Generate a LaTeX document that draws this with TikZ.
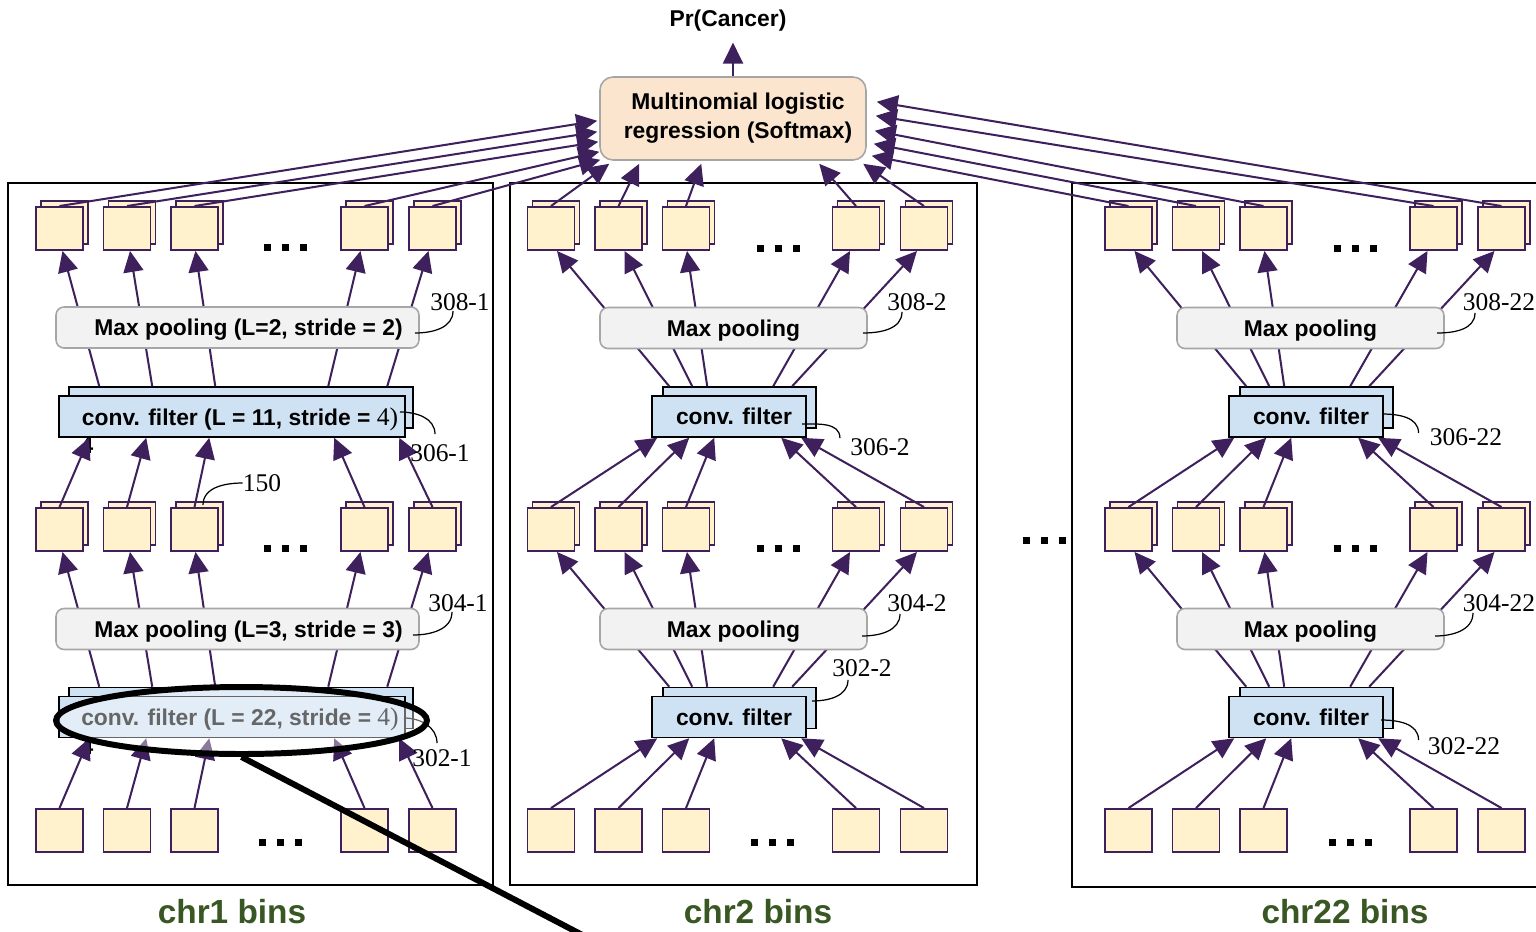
\documentclass[tikz,border=0pt]{standalone}
\usepackage{fontspec}
\setmainfont{Liberation Sans}
\newfontfamily\refnum{Liberation Serif}
\usetikzlibrary{shapes.geometric, arrows.meta, positioning, calc}
\definecolor{arrowpurple}{RGB}{62,32,92}
\definecolor{binyellow}{RGB}{255,242,204}
\definecolor{convblue}{RGB}{207,226,243}
\definecolor{poolgray}{RGB}{242,242,242}
\definecolor{poolline}{RGB}{166,166,166}
\definecolor{softpeach}{RGB}{251,229,207}
\definecolor{chrgreen}{RGB}{56,87,35}

\newcommand{\bindots}[2]{%
  \foreach \k in {-1,0,1} {\fill (#1+18*\k-3.5,#2-3.5) rectangle (#1+18*\k+3.5,#2+3.5);}}

\begin{document}
\begin{tikzpicture}[x=0.02cm, y=-0.02cm,
    bin/.style={draw=arrowpurple, fill=binyellow, line width=1.1pt, minimum width=0.94cm, minimum height=0.86cm, inner sep=0pt},
    convbox/.style={draw=black, fill=convblue, line width=0.9pt, minimum height=0.82cm, inner sep=0pt, text depth=0pt, font=\fontsize{13}{15}\selectfont\bfseries},
    poolbox/.style={draw=poolline, fill=poolgray, rounded corners=0.16cm, line width=0.9pt, minimum height=0.82cm, inner sep=0pt, text depth=0pt, font=\fontsize{13}{15}\selectfont\bfseries},
    softbox/.style={draw=poolline, fill=softpeach, rounded corners=0.26cm, line width=0.9pt, align=center, font=\fontsize{13}{16.5}\selectfont\bfseries},
    flow/.style={arrowpurple, line width=1.15pt},
    flowarrow/.style={flow, -{Triangle[length=0.42cm, width=0.4cm]}},
    leader/.style={black, line width=0.7pt},
    refno/.style={font=\refnum\fontsize{14.5}{16}\selectfont, inner sep=0pt},
    chrlabel/.style={text=chrgreen, font=\fontsize{19}{22}\selectfont\bfseries},
    panel/.style={draw=black, line width=1.4pt}]

  \useasboundingbox (0,0) rectangle (1536,931);
  \clip (0,0) rectangle (1536,931);

  % chromosome panels
  \draw[panel] (8,183) rectangle (493,885);
  \draw[panel] (510,183) rectangle (977,885);
  \draw[panel] (1072,183) rectangle (1548,887);

  % bins and feature maps
  \foreach \pan/\dx in {1/0, 2/491.5, 3/1069} {
    \foreach \col/\x in {1/59.5, 2/127, 3/194.5, 4/364.5, 5/432.5} {
      \node[bin] (topb\pan-\col) at (\x+\dx+5, 222.5) {};
      \node[bin] (top\pan-\col) at (\x+\dx, 228.5) {};
      \node[bin] (midb\pan-\col) at (\x+\dx+5, 523.5) {};
      \node[bin] (mid\pan-\col) at (\x+\dx, 529.5) {};
      \node[bin] (bot\pan-\col) at (\x+\dx, 830.5) {};
    }
  }

  % stray digits under the chr1 filters
  \node[font=\fontsize{13}{15}\selectfont\bfseries, inner sep=0pt] (stray1) at (87,446) {4};
  \node[font=\fontsize{13}{15}\selectfont\bfseries, inner sep=0pt] (stray2) at (87,747) {4};

  % conv filters
  \node[convbox, minimum width=6.88cm] (convbk1-u) at (241,407.5) {};
  \node[convbox, minimum width=6.92cm] (conv1-u) at (232,416.5) {\hspace*{0.32cm}conv. filter (L = 11, stride = {\refnum\mdseries\fontsize{14.5}{15}\selectfont 4)}};
  \node[convbox, minimum width=6.88cm] (convbk1-l) at (241,708) {};
  \node[convbox, minimum width=6.92cm] (conv1-l) at (232,717) {\hspace*{0.32cm}conv. filter (L = 22, stride = {\refnum\mdseries\fontsize{14.5}{15}\selectfont 4)}};
  \foreach \pan/\dx in {2/0, 3/577} {
    \node[convbox, minimum width=3.06cm] (convbk\pan-u) at (739.5+\dx,407.5) {};
    \node[convbox, minimum width=3.08cm] (conv\pan-u) at (729+\dx,416.5) {\hspace*{0.2cm}conv. filter};
    \node[convbox, minimum width=3.06cm] (convbk\pan-l) at (739.5+\dx,708) {};
    \node[convbox, minimum width=3.08cm] (conv\pan-l) at (729+\dx,717) {\hspace*{0.2cm}conv. filter};
  }

  % connections inside the panels
  \foreach \col/\sx/\ex/\tx in {1/31/3/31, 2/84/3/88, 3/147/1/151, 4/260/-4/276, 5/319/-4/341} {
    \draw[flowarrow] ($(convbk1-u.north west)+(\sx,0)$) -- ($(top1-\col.south)+(\ex,0)$);
    \draw[flowarrow] ($(convbk1-l.north west)+(\sx,0)$) -- ($(mid1-\col.south)+(\ex,0)$);
    \draw[flowarrow] (mid1-\col.north) -- ($(conv1-u.south west)+(\tx,0)$);
    \draw[flowarrow] (bot1-\col.north) -- ($(conv1-l.south west)+(\tx,0)$);
  }
  \foreach \pan in {2,3} {
    \foreach \col/\sx/\ex/\tx in {1/7/6/6, 2/30/6/38, 3/45/1/63, 4/111/-6/130, 5/130/-7/150} {
      \draw[flowarrow] ($(convbk\pan-u.north west)+(\sx,0)$) -- ($(top\pan-\col.south)+(\ex,0)$);
      \draw[flowarrow] ($(convbk\pan-l.north west)+(\sx,0)$) -- ($(mid\pan-\col.south)+(\ex,0)$);
      \draw[flowarrow] (mid\pan-\col.north) -- ($(conv\pan-u.south west)+(\tx,0)$);
      \draw[flowarrow] (bot\pan-\col.north) -- ($(conv\pan-l.south west)+(\tx,0)$);
    }
  }

  % max pooling layers
  \node[poolbox, minimum width=7.26cm] (pool1-u) at (237.5,327.5) {\hspace*{0.44cm}Max pooling (L=2, stride = 2)};
  \node[poolbox, minimum width=7.26cm] (pool1-l) at (237.5,629) {\hspace*{0.44cm}Max pooling (L=3, stride = 3)};
  \foreach \pan/\dx in {2/0, 3/577} {
    \node[poolbox, minimum width=5.34cm] (pool\pan-u) at (733.5+\dx,328) {Max pooling};
    \node[poolbox, minimum width=5.34cm] (pool\pan-l) at (733.5+\dx,629) {Max pooling};
  }

  % softmax output
  \node[softbox, minimum width=5.32cm, minimum height=1.66cm] (softmax) at (733,118.5) {\hspace*{0.2cm}Multinomial logistic\\\hspace*{0.2cm}regression (Softmax)};
  \node[font=\fontsize{13}{15}\selectfont\bfseries, inner sep=1pt] (prob) at (728,21) {Pr(Cancer)};
  \draw[flowarrow, shorten >=5pt] (softmax.north) -- (prob.south -| softmax.north);

  \foreach \col/\dx/\dy in {1/-2/-40, 2/-2/-29, 3/-1/-19, 4/0/-9, 5/1/-1}
    \draw[flowarrow] (top1-\col.north) -- ($(softmax.south west)+(\dx,\dy)$);
  \foreach \col/\dx in {1/10, 2/40, 3/102, 4/220, 5/264}
    \draw[flowarrow] (top2-\col.north) -- ($(softmax.south west)+(\dx,3)$);
  \foreach \col/\dx/\dy in {1/5/-5, 2/7/-17, 3/8/-30, 4/9/-45, 5/10/-59}
    \draw[flowarrow] (top3-\col.north) -- ($(softmax.south east)+(\dx,\dy)$);

  % reference numerals
  \node[refno] (r308-1) at (460,302) {308-1};
  \node[refno] (r306-1) at (440,453) {306-1};
  \node[refno] (r150) at (262,483) {150};
  \node[refno] (r304-1) at (458,603) {304-1};
  \node[refno] (r302-1) at (442,758) {302-1};
  \node[refno] (r308-2) at (917,302) {308-2};
  \node[refno] (r306-2) at (880,447) {306-2};
  \node[refno] (r304-2) at (917,603) {304-2};
  \node[refno] (r302-2) at (862,668) {302-2};
  \node[refno] (r308-22) at (1499,302) {308-22};
  \node[refno] (r306-22) at (1466,437) {306-22};
  \node[refno] (r304-22) at (1499,603) {304-22};
  \node[refno] (r302-22) at (1464,746) {302-22};

  \coordinate (s308-1) at (415,333);
  \coordinate (s306-1) at (400,412);
  \coordinate (s150) at (203,505);
  \coordinate (s304-1) at (413,635);
  \coordinate (s302-1) at (404,718);
  \coordinate (s308-2) at (863,333);
  \coordinate (s306-2) at (802,424);
  \coordinate (s304-2) at (862,636);
  \coordinate (s302-2) at (812,701);
  \coordinate (s308-22) at (1437,333);
  \coordinate (s306-22) at (1382,414);
  \coordinate (s304-22) at (1435,636);
  \coordinate (s302-22) at (1381,720);

  \draw[leader] (s308-1) to[out=0,in=-90] ($(r308-1.south)+(-7,0)$);
  \draw[leader] (s306-1) to[out=0,in=90] ($(r306-1.north)+(-5,-10)$);
  \draw[leader] (s150) to[out=90,in=180] (r150.west);
  \draw[leader] (s304-1) to[out=0,in=-90] ($(r304-1.south)+(-6,0)$);
  \draw[leader] (s302-1) to[out=0,in=90] ($(r302-1.north)+(-5,-6)$);
  \draw[leader] (s308-2) to[out=0,in=-90] ($(r308-2.south)+(-15,1)$);
  \draw[leader] (s306-2) to[out=0,in=90] ($(r306-2.north west)+(-10,0)$);
  \draw[leader] (s304-2) to[out=0,in=-90] ($(r304-2.south)+(-17,2)$);
  \draw[leader] (s302-2) to[out=0,in=-90] ($(r302-2.south)+(-14,3)$);
  \draw[leader] (s308-22) to[out=0,in=-90] ($(r308-22.south)+(-24,2)$);
  \draw[leader] (s306-22) to[out=0,in=90] ($(r306-22.west)+(-11,-4)$);
  \draw[leader] (s304-22) to[out=0,in=-90] ($(r304-22.south)+(-26,1)$);
  \draw[leader] (s302-22) to[out=0,in=90] ($(r302-22.west)+(-9,-6)$);

  % omitted bins
  \bindots{285}{247}
  \bindots{285}{548}
  \bindots{280}{842}
  \bindots{778}{248}
  \bindots{778}{548}
  \bindots{772}{842}
  \bindots{1355}{248}
  \bindots{1355}{548}
  \bindots{1350}{842}
  \bindots{1044}{540}

  % magnified filter
  \node[draw=black, line width=3.4pt, fill=white, fill opacity=0.4, ellipse, minimum width=7.42cm, minimum height=1.34cm, inner sep=0pt] (zoomring) at (241.5,720.5) {};
  \coordinate (zoomout) at (592,940);
  \draw[line width=3.4pt] (zoomring.south) -- (zoomout);

  \node[chrlabel] (chr1) at (232,912) {chr1 bins};
  \node[chrlabel] (chr2) at (758,912) {chr2 bins};
  \node[chrlabel] (chr22) at (1345,912) {chr22 bins};
\end{tikzpicture}
\end{document}
